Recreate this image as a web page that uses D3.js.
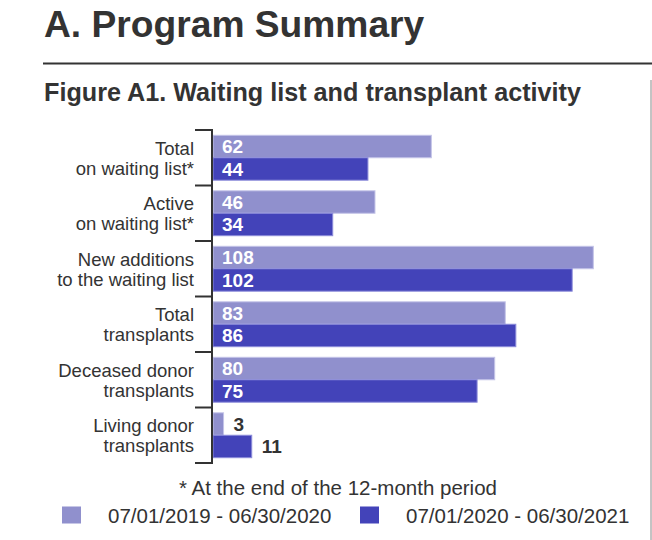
<!DOCTYPE html>
<html>
<head>
<meta charset="utf-8">
<script src="https://cdn.jsdelivr.net/npm/d3@7/dist/d3.min.js"></script>
<style>
  html, body { margin: 0; padding: 0; background: #fff; }
  svg { display: block; font-family: "Liberation Sans", Arial, Helvetica, sans-serif; }
</style>
</head>
<body>
<svg id="chart" width="652" height="540"></svg>
<script>
// ---- Data ----
const categories = [
  ["Total", "on waiting list*"],
  ["Active", "on waiting list*"],
  ["New additions", "to the waiting list"],
  ["Total", "transplants"],
  ["Deceased donor", "transplants"],
  ["Living donor", "transplants"]
];
const seriesNames = ["07/01/2019 - 06/30/2020", "07/01/2020 - 06/30/2021"];
const values2019 = [62, 46, 108, 83, 80, 3];
const values2020 = [44, 34, 102, 86, 75, 11];
const mainTitle = "A. Program Summary";
const figTitle = "Figure A1. Waiting list and transplant activity";
const footnote = "* At the end of the 12-month period";

// ---- Styles ----
const colors = ["#9090cd", "#4343b9"];
const strokes = ["#c4c4e8", "#8c8cda"];
const textColor = "#333333";

const svg = d3.select("#chart");

// Titles
svg.append("text").attr("x", 44).attr("y", 37)
  .attr("font-size", 37.2).attr("font-weight", "bold").attr("fill", textColor)
  .text(mainTitle);
svg.append("line").attr("x1", 43).attr("x2", 652).attr("y1", 63.5).attr("y2", 63.5)
  .attr("stroke", "#333").attr("stroke-width", 2);
svg.append("line").attr("x1", 651).attr("x2", 651).attr("y1", 80).attr("y2", 540)
  .attr("stroke", "#888").attr("stroke-width", 1);
svg.append("text").attr("x", 44).attr("y", 101)
  .attr("font-size", 25.2).attr("font-weight", "bold").attr("fill", textColor)
  .text(figTitle);

// Scales
const idx = categories.map((d, i) => i);
const y = d3.scaleBand().domain(idx).range([130, 463]).paddingInner(0).paddingOuter(0);
const sub = d3.scaleBand().domain([0, 1]).range([5.3, y.bandwidth() - 5.3]);
const x = d3.scaleLinear().domain([0, 108]).range([213, 593.3]);

const series = [values2019, values2020];

// Bars
series.forEach((vals, s) => {
  svg.append("g").selectAll("rect").data(vals).join("rect")
    .attr("x", x(0))
    .attr("y", (d, i) => y(i) + sub(s))
    .attr("width", d => x(d) - x(0))
    .attr("height", sub.bandwidth())
    .attr("fill", colors[s])
    .attr("stroke", strokes[s])
    .attr("stroke-width", 1);
});

// Bar labels
const threshold = 15;
series.forEach((vals, s) => {
  svg.append("g").selectAll("text").data(vals).join("text")
    .attr("x", d => d >= threshold ? x(0) + 9 : x(d) + 10)
    .attr("y", (d, i) => y(i) + sub(s) + sub.bandwidth() / 2 + 6.8)
    .attr("font-size", 19).attr("font-weight", "bold")
    .attr("fill", d => d >= threshold ? "#ffffff" : textColor)
    .text(d => d);
});

// Bracket axis
const axisX = 212;
const bounds = idx.map(i => y(i)).concat([y.range()[1]]);
const axisG = svg.append("g").attr("stroke", "#333").attr("stroke-width", 2).attr("fill", "none");
axisG.append("line").attr("x1", axisX).attr("x2", axisX)
  .attr("y1", bounds[0]).attr("y2", bounds[bounds.length - 1]);
axisG.selectAll("line.tick").data(bounds).join("line").attr("class", "tick")
  .attr("x1", 195).attr("x2", axisX + 1).attr("y1", d => d).attr("y2", d => d);

// Category labels
const catG = svg.append("g").attr("font-size", 18.5).attr("fill", textColor).attr("text-anchor", "end");
categories.forEach((lines, i) => {
  const c = y(i) + y.bandwidth() / 2;
  const t = catG.append("text").attr("x", 194).attr("y", c - 3);
  t.append("tspan").attr("x", 194).attr("y", c - 3).text(lines[0]);
  t.append("tspan").attr("x", 194).attr("y", c + 17).text(lines[1]);
});

// Footnote
svg.append("text").attr("x", 338).attr("y", 495).attr("text-anchor", "middle")
  .attr("font-size", 20.5).attr("fill", textColor).text(footnote);

// Legend
const legendPos = [{sx: 62, tx: 108}, {sx: 360, tx: 406}];
seriesNames.forEach((name, s) => {
  svg.append("rect").attr("x", legendPos[s].sx).attr("y", 506.5).attr("width", 19).attr("height", 17)
    .attr("fill", colors[s]);
  svg.append("text").attr("x", legendPos[s].tx).attr("y", 523)
    .attr("font-size", 20.5).attr("fill", textColor).text(name);
});
</script>
</body>
</html>
